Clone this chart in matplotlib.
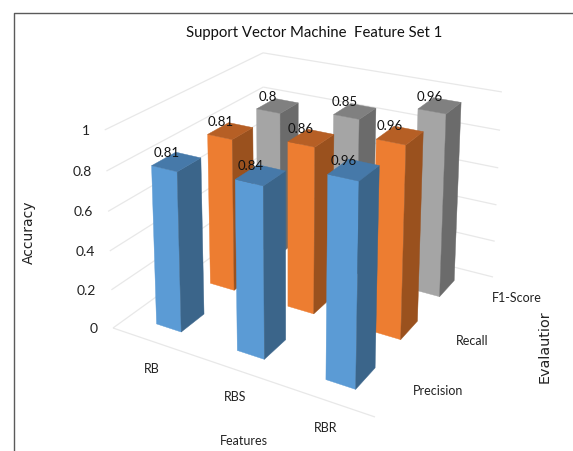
import numpy as np
import matplotlib
matplotlib.use("Agg")
import matplotlib.pyplot as plt
from matplotlib.patches import Polygon

features = ["RB", "RBS", "RBR"]
metrics = ["Precision", "Recall", "F1-Score"]
precision = [0.81, 0.84, 0.96]
recall = [0.81, 0.86, 0.96]
f1_score = [0.8, 0.85, 0.96]
z_ticks = [0, 0.2, 0.4, 0.6, 0.8, 1]

# front, side, top shade of each series
blue = ["#5B9BD5", "#3B658A", "#4679A9"]
orange = ["#ED7D31", "#9A511E", "#B65F25"]
gray = ["#A5A5A5", "#6B6B6B", "#808080"]

# perspective camera: (u, v, w) in the unit box -> pixel position
CAM = np.array([
    [212.0, 207.2, -13.0, 113.0],
    [33.4, -62.4, -203.9, 328.0],
    [-0.1333, 0.2128, -0.045, 1.0],
])
BAR_U = 0.0525  # half width along features
BAR_V = 0.069   # half depth along metrics
GRID = "#E8E8E8"

plt.rcParams['font.family'] = ['Lato', 'DejaVu Sans']


def project(u, v, w):
    x, y, s = CAM @ np.array([u, v, w, 1.0])
    return x / s, y / s


def draw_bar(ax, i, j, value, shades):
    uc = (i + 0.5) / len(features)
    vc = (j + 0.5) / len(metrics)
    u0, u1 = uc - BAR_U, uc + BAR_U
    v0, v1 = vc - BAR_V, vc + BAR_V
    faces = [
        [(u0, v0, 0), (u1, v0, 0), (u1, v0, value), (u0, v0, value)],
        [(u1, v0, 0), (u1, v1, 0), (u1, v1, value), (u1, v0, value)],
        [(u0, v0, value), (u1, v0, value), (u1, v1, value), (u0, v1, value)],
    ]
    for face, shade in zip(faces, shades):
        ax.add_patch(Polygon([project(*p) for p in face], closed=True,
                             facecolor=shade, edgecolor=shade, linewidth=0.3, zorder=2))
    x, y = project(uc, vc, value)
    ax.text(x - 10, y - 9, f"{value:g}", ha="center", va="center", fontsize=9.5, color="#111111", zorder=3)


def line3d(ax, a, b):
    xa, ya = project(*a)
    xb, yb = project(*b)
    ax.plot([xa, xb], [ya, yb], color=GRID, lw=0.9, solid_capstyle="butt", zorder=1)


fig = plt.figure(figsize=(5.73, 4.51), dpi=100)
ax = fig.add_axes([0, 0, 1, 1])
ax.set_xlim(0, 573)
ax.set_ylim(451, 0)
ax.axis("off")

# walls and floor
for w in z_ticks:
    line3d(ax, (0, 0, w), (0, 1, w))
    line3d(ax, (0, 1, w), (1, 1, w))
line3d(ax, (0, 0, 0), (1, 0, 0))

# back row first so the nearer bars cover it
series = [(f1_score, gray), (recall, orange), (precision, blue)]
for k, (values, shades) in enumerate(series):
    j = len(series) - 1 - k
    for i, value in enumerate(values):
        draw_bar(ax, i, j, value, shades)

for w in z_ticks:
    x, y = project(0, 0, w)
    ax.text(x - 15, y + 1, f"{w:g}", ha="right", va="center", fontsize=10, color="#222222")

for i, name in enumerate(features):
    x, y = project((i + 0.5) / 3, 0, 0)
    ax.text(x, y + 28, name, ha="center", va="center", fontsize=9, color="#222222")

for j, name in enumerate(metrics):
    x, y = project(1, (j + 0.5) / 3, 0)
    ax.text(x + [40, 32, 40][j], y + 2, name, ha="center", va="center", fontsize=9, color="#222222")

ax.text(314.5, 33, "Support Vector Machine  Feature Set 1", ha="center", va="center",
        fontsize=10.7, color="#111111")
ax.text(244, 441, "Features", ha="center", va="center", fontsize=9, color="#222222")
ax.text(29, 232, "Accuracy", rotation=90, ha="center", va="center", fontsize=10,
        family="DejaVu Sans", color="#222222")
ax.text(545, 347, "Evalautior", rotation=90, ha="center", va="center", fontsize=10.4,
        family="DejaVu Sans", color="#222222")

# chart frame, left and top edges only
ax.plot([13.5, 13.5, 573], [451, 12.5, 12.5], color="#5A5A5A", lw=1.0, zorder=1)

fig.savefig("out.png", dpi=100)
